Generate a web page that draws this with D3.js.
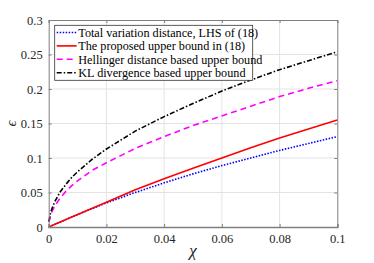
<!DOCTYPE html>
<html>
<head>
<meta charset="utf-8">
<script src="https://cdn.jsdelivr.net/npm/d3@7"></script>
<style>
  body { margin: 0; background: #fff; }
  svg text { font-family: "Liberation Serif", "Times New Roman", serif; }
</style>
</head>
<body>
<div id="chart"></div>
<script>
// x values (chi) for the sqrt-like bounds
const chiFine = [0.0001, 0.0005, 0.001, 0.002, 0.004, 0.006, 0.008, 0.01, 0.015, 0.02, 0.03, 0.04, 0.05, 0.06, 0.07, 0.08, 0.09, 0.1]
const klBound = [0.008, 0.018, 0.025, 0.036, 0.051, 0.062, 0.072, 0.080, 0.098, 0.113, 0.139, 0.160, 0.179, 0.197, 0.213, 0.228, 0.241, 0.254]
const hellBound = [0.007, 0.015, 0.021, 0.030, 0.042, 0.052, 0.060, 0.067, 0.082, 0.093, 0.114, 0.131, 0.147, 0.161, 0.175, 0.189, 0.201, 0.212]

// x values for the near-linear curves
const chiCoarse = [0, 0.01, 0.02, 0.03, 0.04, 0.05, 0.06, 0.07, 0.08, 0.09, 0.1]
const tvDist = [0, 0.018, 0.035, 0.050, 0.064, 0.077, 0.089, 0.100, 0.111, 0.121, 0.131]
const proposed = [0, 0.018, 0.036, 0.054, 0.070, 0.085, 0.100, 0.115, 0.129, 0.142, 0.155]

const xTicks = [0, 0.02, 0.04, 0.06, 0.08, 0.1]
const yTicks = [0, 0.05, 0.1, 0.15, 0.2, 0.25, 0.3]

const series = [
  { name: 'Total variation distance, LHS of (18)', xs: chiCoarse, ys: tvDist, color: '#0000ff', dash: '1.5,1.5' },
  { name: 'The proposed upper bound in (18)', xs: chiCoarse, ys: proposed, color: '#ff0000', dash: null },
  { name: 'Hellinger distance based upper bound', xs: chiFine, ys: hellBound, color: '#ff00ff', dash: '6,4' },
  { name: 'KL divergence based upper bound', xs: chiFine, ys: klBound, color: '#000000', dash: '5,2,1.5,2' }
]

const width = 374, height = 263
const margin = { top: 20, right: 36, bottom: 36, left: 48.7 }
const w = 337.3 - margin.left
const h = 227 - margin.top
const serif = '"Liberation Serif", "Times New Roman", serif'

const svg = d3.select('#chart').append('svg')
  .attr('width', width)
  .attr('height', height)

const g = svg.append('g')
  .attr('transform', 'translate(' + margin.left + ',' + margin.top + ')')

const x = d3.scaleLinear().domain([0, 0.1]).range([0, w])
const y = d3.scaleLinear().domain([0, 0.3]).range([h, 0])

// grid
g.append('g').selectAll('line')
  .data(xTicks.slice(1, -1))
  .enter().append('line')
    .attr('x1', d => x(d)).attr('x2', d => x(d))
    .attr('y1', 0).attr('y2', h)
    .attr('stroke', '#e3e3e3')
g.append('g').selectAll('line')
  .data(yTicks.slice(1, -1))
  .enter().append('line')
    .attr('x1', 0).attr('x2', w)
    .attr('y1', d => y(d)).attr('y2', d => y(d))
    .attr('stroke', '#e3e3e3')

// curves
const line = d3.line()
  .x(d => x(d[0]))
  .y(d => y(d[1]))

series.forEach(s => {
  g.append('path')
    .datum(s.xs.map((v, i) => [v, s.ys[i]]))
    .attr('fill', 'none')
    .attr('stroke', s.color)
    .attr('stroke-width', 1.6)
    .attr('stroke-dasharray', s.dash)
    .attr('d', line)
})

// axes, MATLAB style box with inward ticks
const axisColor = '#7f7f7f'
const xAxis = g.append('g')
  .attr('transform', 'translate(0,' + h + ')')
  .call(d3.axisBottom(x).tickValues(xTicks).tickSize(-3).tickPadding(7).tickFormat(d3.format('~g')))
const yAxis = g.append('g')
  .call(d3.axisLeft(y).tickValues(yTicks).tickSize(-3).tickPadding(6).tickFormat(d3.format('~g')))
g.append('g')
  .call(d3.axisTop(x).tickValues(xTicks).tickSize(-3).tickFormat(''))
g.append('g')
  .attr('transform', 'translate(' + w + ',0)')
  .call(d3.axisRight(y).tickValues(yTicks).tickSize(-3).tickFormat(''))

g.selectAll('.domain, .tick line').attr('stroke', axisColor)
xAxis.select('.domain').attr('stroke-width', 1.6)
g.selectAll('.tick text')
  .attr('fill', '#262626')
  .attr('font-size', 12.5)

// axis labels
svg.append('text')
  .attr('x', margin.left + w / 2)
  .attr('y', 256)
  .attr('text-anchor', 'middle')
  .attr('font-style', 'italic')
  .attr('font-size', 17)
  .attr('fill', '#262626')
  .text('χ')

svg.append('text')
  .attr('transform', 'translate(16,' + (margin.top + h / 2) + ') rotate(-90)')
  .attr('text-anchor', 'middle')
  .attr('font-style', 'italic')
  .attr('font-size', 15)
  .attr('fill', '#262626')
  .text('ϵ')

// legend
const legend = g.append('g')
  .attr('transform', 'translate(' + (54.7 - margin.left) + ',' + (25.3 - margin.top) + ')')
legend.append('rect')
  .attr('width', 198)
  .attr('height', 55)
  .attr('fill', '#fff')
  .attr('stroke', '#333')
  .attr('stroke-width', 0.8)
const item = legend.selectAll('.item')
  .data(series)
  .enter().append('g')
    .attr('class', 'item')
    .attr('transform', (d, i) => 'translate(0,' + (7.2 + i * 13.4) + ')')
item.append('line')
  .attr('x1', 2).attr('x2', 22)
  .attr('stroke', d => d.color)
  .attr('stroke-width', 1.6)
  .attr('stroke-dasharray', d => d.dash)
item.append('text')
  .attr('x', 23.6)
  .attr('dy', '0.35em')
  .attr('font-size', 12.2)
  .attr('fill', '#000')
  .text(d => d.name)

// make sure every label uses the serif face
svg.selectAll('text').style('font-family', serif)
</script>
</body>
</html>
